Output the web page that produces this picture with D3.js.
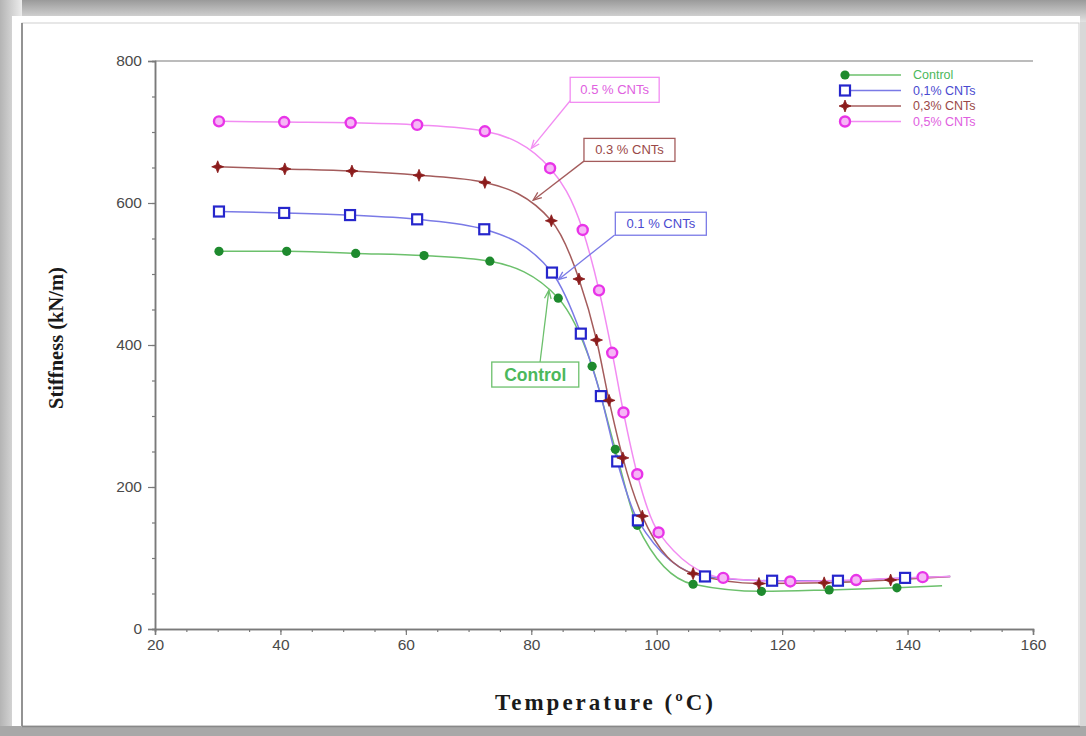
<!DOCTYPE html>
<html>
<head>
<meta charset="utf-8">
<script src="https://cdn.jsdelivr.net/npm/d3@7"></script>
<style>
  html, body { margin: 0; padding: 0; background: #fff; }
  svg { display: block; }
</style>
</head>
<body>
<div id="chart"></div>
<script>
var width = 1086, height = 736;

// data (temperature in deg C, stiffness in kN/m)
var controlT = [30.2, 41.0, 52.0, 62.9, 73.4, 84.3, 89.7, 93.4, 96.9, 105.8, 116.7, 127.5, 138.3];
var controlV = [532, 532, 529, 526, 518, 466, 370, 253, 146, 63, 53, 55, 58];
var cnt01T = [30.2, 40.6, 51.1, 61.8, 72.5, 83.3, 87.9, 91.1, 93.7, 97.0, 107.7, 118.4, 128.9, 139.6];
var cnt01V = [588, 586, 583, 577, 563, 502, 416, 328, 236, 153, 74, 68, 68, 72];
var cnt03T = [30.0, 40.7, 51.4, 62.1, 72.6, 83.2, 87.6, 90.4, 92.4, 94.6, 97.7, 105.8, 116.3, 126.7, 137.3];
var cnt03V = [651, 648, 645, 639, 629, 575, 493, 407, 322, 241, 159, 78, 64, 65, 69];
var cnt05T = [30.2, 40.6, 51.2, 61.8, 72.6, 83.0, 88.2, 90.8, 92.9, 94.7, 96.9, 100.3, 110.6, 121.3, 131.8, 142.4];
var cnt05V = [715, 714, 713, 710, 701, 649, 562, 477, 389, 305, 218, 136, 72, 67, 69, 73];

// where each fitted curve stops after its last marker
var tailT = [145.5, 146.8, 146.8, 146.8];
var tailV = [61, 74, 74, 74];

var seriesNames = ["Control", "0,1% CNTs", "0,3% CNTs", "0,5% CNTs"];
var noteLabels = ["Control", "0.1 % CNTs", "0.3 % CNTs", "0.5 % CNTs"];

var xTicks = [20, 40, 60, 80, 100, 120, 140, 160];
var yTicks = [0, 200, 400, 600, 800];

var series = [
  { name: seriesNames[0], t: controlT, v: controlV, marker: "dot",    line: "#6cc06c", fill: "#1e8a2e", stroke: "#1e8a2e", text: "#4cb85c" },
  { name: seriesNames[1], t: cnt01T,   v: cnt01V,   marker: "square", line: "#7a7ae6", fill: "#fff",    stroke: "#2626cc", text: "#4a4ad0" },
  { name: seriesNames[2], t: cnt03T,   v: cnt03V,   marker: "star",   line: "#a45c5c", fill: "#8b1c1c", stroke: "#8b1c1c", text: "#9a4848" },
  { name: seriesNames[3], t: cnt05T,   v: cnt05V,   marker: "ring",   line: "#f28cf2", fill: "#f6b6f6", stroke: "#e834e8", text: "#e060e0" }
];

// small four point star used for the 0.3% markers
var starType = {
  draw: function(context, size){
    var r = Math.sqrt(size) * 0.75, w = r * 0.28;
    context.moveTo(0, -r);
    context.lineTo(w, -w);
    context.lineTo(r, 0);
    context.lineTo(w, w);
    context.lineTo(0, r);
    context.lineTo(-w, w);
    context.lineTo(-r, 0);
    context.lineTo(-w, -w);
    context.closePath();
  }
};

var svg = d3.select("#chart").append("svg")
    .attr("width", width)
    .attr("height", height);

drawFrame();

var x = d3.scaleLinear().domain([20, 160]).range([155, 1033]);
var y = d3.scaleLinear().domain([0, 800]).range([629, 61]);

drawAxes();
drawSeries();
drawLegend();
drawNotes();

function drawFrame(){

  var defs = svg.append("defs");
  var gt = defs.append("linearGradient").attr("id", "gtop").attr("x1", 0).attr("y1", 0).attr("x2", 0).attr("y2", 1);
  gt.append("stop").attr("offset", "0%").attr("stop-color", "#9a9a9a");
  gt.append("stop").attr("offset", "100%").attr("stop-color", "#e2e2e2");
  var gl = defs.append("linearGradient").attr("id", "gleft").attr("x1", 0).attr("y1", 0).attr("x2", 1).attr("y2", 0);
  gl.append("stop").attr("offset", "0%").attr("stop-color", "#b4b4b4");
  gl.append("stop").attr("offset", "100%").attr("stop-color", "#ececec");

  svg.append("rect").attr("width", width).attr("height", height).attr("fill", "#d8d8d8");
  svg.append("rect").attr("width", width).attr("height", 22).attr("fill", "url(#gtop)");
  svg.append("rect").attr("width", 22).attr("height", height).attr("fill", "url(#gleft)");
  svg.append("rect").attr("x", 0).attr("y", 726).attr("width", width).attr("height", 10).attr("fill", "#a8a8a8");

  // white card
  svg.append("rect")
      .attr("x", 12).attr("y", 16)
      .attr("width", 1068).attr("height", 710)
      .attr("fill", "#fff");

  svg.append("rect")
      .attr("x", 22).attr("y", 23)
      .attr("width", 1057).attr("height", 703)
      .attr("fill", "#fff")
      .attr("stroke", "#cfcfcf")
      .attr("stroke-width", 1);

  svg.append("line")
      .attr("x1", 22).attr("y1", 23).attr("x2", 22).attr("y2", 726)
      .attr("stroke", "#777").attr("stroke-width", 1.5);
  svg.append("line")
      .attr("x1", 22).attr("y1", 726.5).attr("x2", 1080).attr("y2", 726.5)
      .attr("stroke", "#888").attr("stroke-width", 1.5);
}

function drawAxes(){

  var axisColor = "#7a7a7a";

  svg.append("g")
      .attr("transform", "translate(0," + y(0) + ")")
      .call(d3.axisBottom(x).tickValues(d3.range(20, 161, 5)).tickSize(3).tickFormat(""));
  svg.append("g")
      .attr("transform", "translate(0," + y(0) + ")")
      .call(d3.axisBottom(x).tickValues(xTicks).tickSize(6).tickPadding(4).tickFormat(d3.format("d")));

  svg.append("g")
      .attr("transform", "translate(" + x(20) + ",0)")
      .call(d3.axisLeft(y).tickValues(d3.range(0, 801, 50)).tickSize(3).tickFormat(""));
  svg.append("g")
      .attr("transform", "translate(" + x(20) + ",0)")
      .call(d3.axisLeft(y).tickValues(yTicks).tickSize(7).tickPadding(6).tickFormat(d3.format("d")));

  svg.selectAll(".domain").attr("stroke", axisColor).attr("stroke-width", 1.5);
  svg.selectAll(".tick line").attr("stroke", axisColor).attr("stroke-width", 1.2);
  svg.selectAll(".tick text")
      .attr("fill", "#4a4a4a")
      .style("font-family", "'Liberation Sans', Arial, sans-serif")
      .style("font-size", "15.5px");

  // top frame line
  svg.append("line")
      .attr("x1", x(20)).attr("x2", x(160))
      .attr("y1", y(800)).attr("y2", y(800))
      .attr("stroke", axisColor).attr("stroke-width", 1.2);

  svg.append("text")
      .attr("transform", "translate(56," + 338 + ") rotate(-90)")
      .attr("text-anchor", "middle")
      .attr("dy", ".35em")
      .style("font-family", "'Liberation Serif', 'Times New Roman', serif")
      .style("font-weight", "bold")
      .style("font-size", "20.5px")
      .attr("fill", "#1a1a1a")
      .text("Stiffness (kN/m)");

  svg.append("text")
      .attr("x", 604).attr("y", 702)
      .attr("text-anchor", "middle")
      .attr("dy", ".35em")
      .attr("textLength", 218)
      .style("font-family", "'Liberation Serif', 'Times New Roman', serif")
      .style("font-weight", "bold")
      .style("font-size", "23px")
      .attr("fill", "#1a1a1a")
      .text("Temperature (\u00baC)");
}

function addMarker(sel, s){
  if (s.marker === "dot") {
    sel.append("circle").attr("r", 4.6).attr("fill", s.fill);
  } else if (s.marker === "square") {
    sel.append("rect").attr("x", -5).attr("y", -5).attr("width", 10).attr("height", 10)
        .attr("fill", "#fff").attr("stroke", s.stroke).attr("stroke-width", 2.2);
  } else if (s.marker === "star") {
    sel.append("path").attr("d", d3.symbol().type(starType).size(64)()).attr("fill", s.fill)
        .attr("stroke", s.fill).attr("stroke-width", 0.8);
  } else {
    sel.append("circle").attr("r", 5).attr("fill", s.fill)
        .attr("stroke", s.stroke).attr("stroke-width", 2.4);
  }
}

function drawSeries(){

  var line = d3.line()
      .x(function(d){ return x(d[0]); })
      .y(function(d){ return y(d[1]); })
      .curve(d3.curveMonotoneX);

  var g = svg.append("g");

  series.forEach(function(s, i){
    var pts = s.t.map(function(t, j){ return [t, s.v[j]]; });
    pts.push([tailT[i], tailV[i]]);
    g.append("path")
        .datum(pts)
        .attr("d", line)
        .attr("fill", "none")
        .attr("stroke", s.line)
        .attr("stroke-width", 1.5);
  });

  series.forEach(function(s){
    var pts = s.t.map(function(t, j){ return [t, s.v[j]]; });
    g.selectAll(null)
        .data(pts)
      .enter().append("g")
        .attr("transform", function(d){ return "translate(" + x(d[0]) + "," + y(d[1]) + ")"; })
        .each(function(){ addMarker(d3.select(this), s); });
  });
}

function drawLegend(){

  var lg = svg.append("g").attr("transform", "translate(845,75)");

  series.forEach(function(s, i){
    var row = lg.append("g").attr("transform", "translate(0," + (i * 15.5) + ")");
    row.append("line")
        .attr("x1", 0).attr("x2", 56)
        .attr("stroke", s.line).attr("stroke-width", 1.5);
    addMarker(row.append("g"), s);
    row.append("text")
        .attr("x", 68)
        .attr("dy", ".35em")
        .attr("fill", s.text)
        .style("font-family", "'Liberation Sans', Arial, sans-serif")
        .style("font-size", "12.5px")
        .text(s.name);
  });
}

function drawNotes(){

  // box top-left corner (data units), box size (px), arrow from/to (data units)
  var notes = [
    { i: 0, bx: 73.7, by: 376, w: 87, h: 25, size: "17.5px", weight: "bold", from: [81.4, 376], to: [82.8, 477] },
    { i: 1, bx: 93.4, by: 587, w: 91, h: 23, size: "13px", weight: "normal", from: [93.3, 555], to: [84.3, 492] },
    { i: 2, bx: 88.4, by: 691, w: 91, h: 23, size: "13px", weight: "normal", from: [88.4, 659], to: [80.3, 604] },
    { i: 3, bx: 86.2, by: 777, w: 89, h: 25, size: "13px", weight: "normal", from: [86.2, 744], to: [80.0, 677] }
  ];

  var g = svg.append("g");

  notes.forEach(function(n){
    var s = series[n.i];
    var x0 = x(n.bx), y0 = y(n.by);
    var fx = x(n.from[0]), fy = y(n.from[1]), tx = x(n.to[0]), ty = y(n.to[1]);
    var a = Math.atan2(ty - fy, tx - fx), hl = 9, ha = 0.38;

    g.append("line")
        .attr("x1", fx).attr("y1", fy).attr("x2", tx).attr("y2", ty)
        .attr("stroke", s.line).attr("stroke-width", 1.3);
    g.append("path")
        .attr("d", "M" + (tx - hl * Math.cos(a - ha)) + "," + (ty - hl * Math.sin(a - ha)) +
                   "L" + tx + "," + ty +
                   "L" + (tx - hl * Math.cos(a + ha)) + "," + (ty - hl * Math.sin(a + ha)))
        .attr("fill", "none")
        .attr("stroke", s.line).attr("stroke-width", 1.3);

    g.append("rect")
        .attr("x", x0).attr("y", y0)
        .attr("width", n.w).attr("height", n.h)
        .attr("fill", "#fff")
        .attr("stroke", s.line).attr("stroke-width", 1.3);
    g.append("text")
        .attr("x", x0 + n.w / 2).attr("y", y0 + n.h / 2)
        .attr("dy", ".35em")
        .attr("text-anchor", "middle")
        .attr("fill", s.text)
        .style("font-family", "'Liberation Sans', Arial, sans-serif")
        .style("font-size", n.size)
        .style("font-weight", n.weight)
        .text(noteLabels[n.i]);
  });
}
</script>
</body>
</html>
